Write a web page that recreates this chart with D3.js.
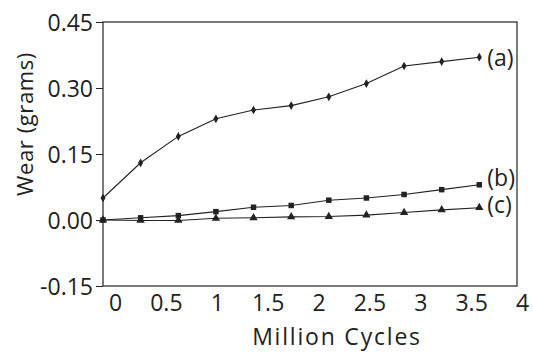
<!DOCTYPE html>
<html>
<head>
<meta charset="utf-8">
<script src="https://cdn.jsdelivr.net/npm/d3@7"></script>
<style>
  body { margin: 0; background: #fff; }
  svg text { font-family: "Open Sans", sans-serif; fill: #222; }
</style>
</head>
<body>
<svg id="chart"></svg>
<script>
// Chart size and plot box.
const width = 533;
const height = 352;
const margin = { top: 22, right: 16, bottom: 66, left: 103 };

// Data: wear (grams) against million cycles.
const cycles = [0, 0.333, 0.667, 1, 1.333, 1.667, 2, 2.333, 2.667, 3, 3.333];
const wearA = [0.05, 0.13, 0.19, 0.23, 0.25, 0.26, 0.28, 0.31, 0.35, 0.36, 0.37];
const wearB = [0, 0.005, 0.01, 0.019, 0.029, 0.033, 0.045, 0.05, 0.058, 0.069, 0.08];
const wearC = [0, -0.001, -0.001, 0.004, 0.005, 0.007, 0.008, 0.011, 0.017, 0.023, 0.028];
const seriesNames = ["(a)", "(b)", "(c)"];
const yTicks = [-0.15, 0, 0.15, 0.30, 0.45];
const xTicks = [0, 0.5, 1, 1.5, 2, 2.5, 3, 3.5, 4];

const svg = d3.select("#chart").attr("width", width).attr("height", height);

function translate(x, y) {
  return "translate(" + x + "," + y + ")";
}

const plotW = width - margin.left - margin.right;
const plotH = height - margin.top - margin.bottom;

const xScale = d3.scaleLinear().domain([0, 3.667]).range([0, plotW]);
const yScale = d3.scaleLinear().domain([-0.15, 0.45]).range([plotH, 0]);
// tick labels are spread on their own under the plot
const xLabelScale = d3.scaleLinear().domain([0, 4]).range([12, 419]);

const plot = svg.append("g").attr("transform", translate(margin.left, margin.top));

// Frame.
plot.append("rect")
  .attr("width", plotW)
  .attr("height", plotH)
  .attr("fill", "none")
  .attr("stroke", "#222")
  .attr("stroke-width", 1.2);

// Y axis, plain hyphen for the minus sign.
const fmt = d3.format(".2f");
const yAxis = d3.axisLeft(yScale)
  .tickValues(yTicks)
  .tickFormat(d => fmt(d).replace("\u2212", "-"))
  .tickSize(7)
  .tickSizeOuter(0);
const yg = plot.append("g").call(yAxis);
yg.select(".domain").remove();
yg.selectAll("line").attr("stroke", "#222");
yg.selectAll("text")
  .attr("font-size", 23)
  .attr("x", -10)
  .attr("dy", "0.36em")
  .attr("fill", "#222");

// X axis labels (no tick marks).
const xAxis = d3.axisBottom(xLabelScale)
  .tickValues(xTicks)
  .tickFormat(d => String(d))
  .tickSize(0);
const xg = plot.append("g").attr("transform", translate(0, plotH)).call(xAxis);
xg.select(".domain").remove();
xg.selectAll("text")
  .attr("font-size", 23)
  .attr("y", 9)
  .attr("dy", "0.71em")
  .attr("fill", "#222");

// Lines and markers.
const series = [wearA, wearB, wearC];
const line = d3.line()
  .x((d, i) => xScale(cycles[i]))
  .y(d => yScale(d));

const shapes = [d3.symbolDiamond, d3.symbolSquare, d3.symbolTriangle];
const sizes = [22, 30, 30];
const labelShift = [1, -7, -3];

series.forEach((vals, s) => {
  plot.append("path")
    .datum(vals)
    .attr("d", line)
    .attr("fill", "none")
    .attr("stroke", "#222")
    .attr("stroke-width", 1.1);

  plot.append("g")
    .selectAll("path")
    .data(vals)
    .join("path")
    .attr("transform", (d, i) => translate(xScale(cycles[i]), yScale(d)))
    .attr("d", d3.symbol().type(shapes[s]).size(sizes[s]))
    .attr("fill", "#222");

  // series label after the last point
  plot.append("text")
    .attr("x", xScale(cycles[cycles.length - 1]) + 8)
    .attr("y", yScale(vals[vals.length - 1]) + labelShift[s])
    .attr("dy", "0.35em")
    .attr("font-size", 23)
    .text(seriesNames[s]);
});

// Axis titles.
svg.append("text")
  .attr("x", 337)
  .attr("y", 345)
  .attr("text-anchor", "middle")
  .attr("font-size", 23)
  .attr("letter-spacing", 1.8)
  .text("Million Cycles");

svg.append("g")
  .attr("transform", translate(25, 124))
  .append("text")
  .attr("transform", "rotate(-90)")
  .attr("text-anchor", "middle")
  .attr("dy", "0.35em")
  .attr("font-size", 22)
  .attr("letter-spacing", 0.6)
  .text("Wear (grams)");
</script>
</body>
</html>
